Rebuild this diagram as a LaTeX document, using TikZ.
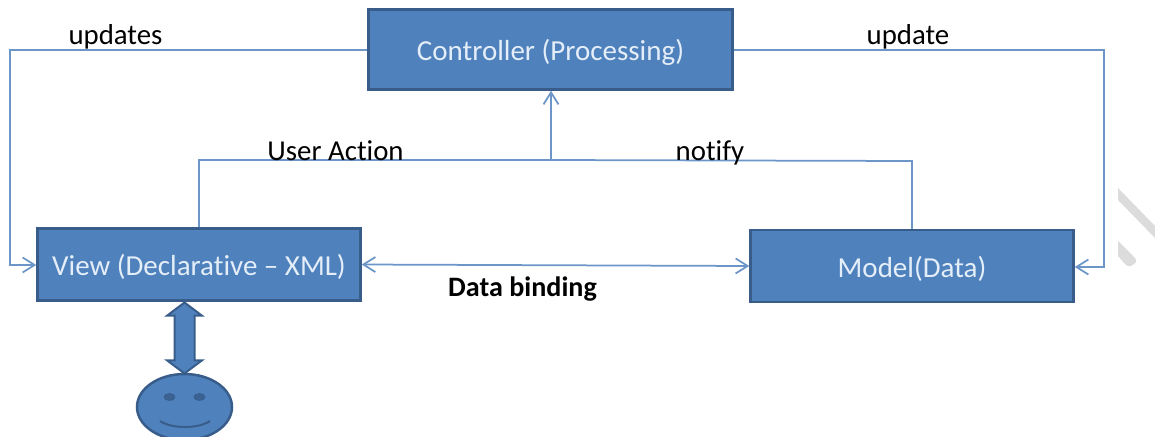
\documentclass[tikz,border=0pt]{standalone}
\usepackage{fontspec}
\setmainfont[Ligatures={TeX,NoCommon}]{Carlito}
\usetikzlibrary{arrows.meta}
\usetikzlibrary{shapes.arrows}
\definecolor{boxblue}{HTML}{4F81BD}
\definecolor{boxline}{HTML}{385D8A}
\definecolor{wireblue}{HTML}{6C96C8}
\definecolor{boxtext}{HTML}{E4EEF8}
\definecolor{markgray}{HTML}{DCDCDC}

\begin{document}
\begin{tikzpicture}
  [x=0.02cm,y=-0.02cm,
  mvcbox/.style={rectangle,draw=boxline,fill=boxblue,line width=0.05cm,text=boxtext,font=\fontsize{16.5}{18}\selectfont,inner sep=0pt,text height=17pt,text depth=4.2pt},
  wire/.style={wireblue,line width=0.035cm},
  wirearrow/.style={wire,-{Straight Barb[length=0.24cm,width=0.3cm]}},
  lbl/.style={draw=none,text=black,inner sep=0pt,font=\fontsize{16.4}{18}\selectfont,text height=15.7pt,text depth=4pt}]
  \useasboundingbox (0,0) rectangle (1155,436);

  \node[mvcbox,minimum width=7.28cm,minimum height=1.6cm] (controller) at (550.5,49.5) {Controller (Processing)};
  \node[mvcbox,minimum width=6.46cm,minimum height=1.44cm] (view) at (199,264.5) {View (Declarative -- XML)};
  \node[mvcbox,minimum width=6.46cm,minimum height=1.44cm] (model) at (912,266) {Model(Data)};

  \coordinate (updl1) at (10,50);
  \coordinate (updl2) at (10,265);
  \coordinate (updr1) at (1104,50);
  \coordinate (updr2) at (1104,267);
  \coordinate (act) at (199,160);
  \coordinate (ntf) at (912,161);
  \coordinate (join) at (551,160);

  \draw [wirearrow] (controller.west |- updl1) -- (updl1) -- (updl2) -- (view.west |- updl2);
  \draw [wirearrow] (controller.east |- updr1) -- (updr1) -- (updr2) -- (model.east |- updr2);
  \draw [wire] (view.north) -- (act) -- (join);
  \draw [wire] (model.north) -- (ntf) -- (join);
  \draw [wirearrow] (join) -- (controller.south -| join);
  \draw [wirearrow,{Straight Barb[length=0.24cm,width=0.3cm]}-{Straight Barb[length=0.24cm,width=0.3cm]}] (view.east) -- (model.west);

  \node[lbl] (updates) at (115.5,34) {updates};
  \node[lbl] (update) at (908,34) {update};
  \node[lbl] (useraction) at (335.5,150) {User Action};
  \node[lbl] (notify) at (710,150) {notify};
  \node[lbl,font=\fontsize{16}{18}\selectfont\bfseries] (binding) at (522.5,286) {Data binding};

  % user below the view box
  \node[double arrow,draw=boxline,fill=boxblue,line width=0.04cm,rotate=90,minimum height=1.42cm,minimum width=0.7cm,double arrow head extend=0.09cm,double arrow tip angle=106,inner xsep=0pt,inner ysep=0.1cm] (usrarrow) at (184.5,338) {};
  \begin{scope}
    \clip (0,0) rectangle (1155,436);
    \draw[boxline,fill=boxblue,line width=0.05cm] (184.5,407) ellipse (47.5 and 33);
    \draw[boxline,fill=boxline!85!boxblue] (169.5,397) ellipse (5.5 and 3.5);
    \draw[boxline,fill=boxline!85!boxblue] (199.5,397) ellipse (5.5 and 3.5);
    \draw[boxline,line width=0.04cm] (160,421) .. controls (172,429) and (198,429) .. (210,421);
  \end{scope}

  % watermark strip
  \fill[markgray] (1118,188) -- (1155,226) -- (1155,238) -- (1118,200) -- cycle;
  \fill[markgray] (1118,241) -- (1134,257) .. controls (1137,260) and (1137,262) .. (1134,264) -- (1131,266) .. controls (1129,267) and (1127,266) .. (1125,264) -- (1118,256) -- cycle;
\end{tikzpicture}
\end{document}
